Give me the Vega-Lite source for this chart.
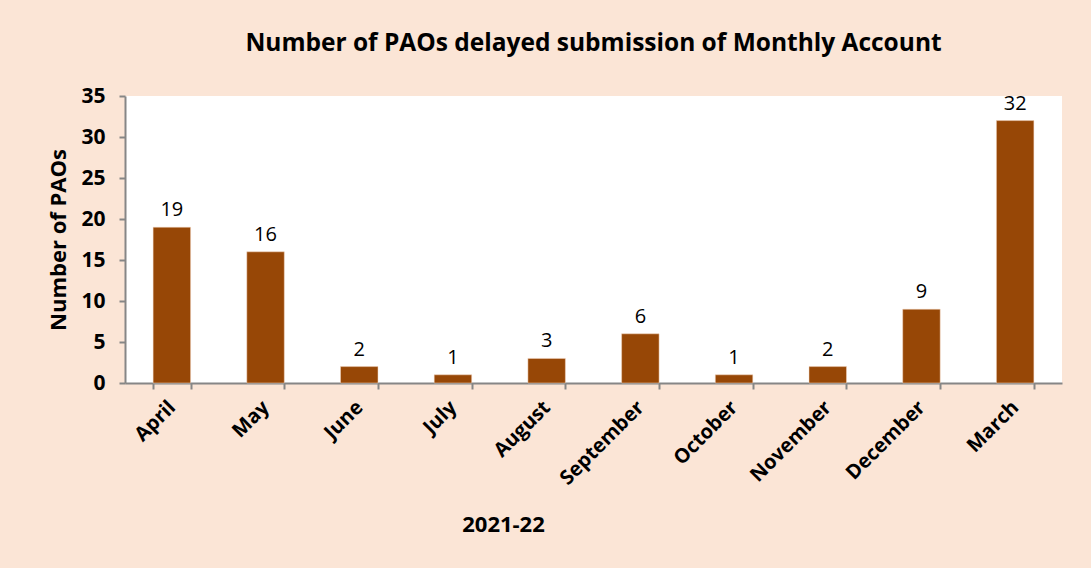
{
  "$schema": "https://vega.github.io/schema/vega-lite/v6.json",
  "autosize": {"type": "none"},
  "width": 937,
  "height": 287,
  "padding": {"left": 125, "top": 96, "right": 29, "bottom": 185},
  "background": "#FBE5D6",
  "config": {
    "view": {"fill": "white", "stroke": null},
    "font": "Open Sans"
  },
  "title": {
    "text": "Number of PAOs delayed submission of Monthly Account",
    "fontSize": 24.5,
    "fontWeight": "bold",
    "font": "Open Sans",
    "color": "black",
    "anchor": "middle",
    "offset": 29
  },
  "data": {
    "values": [
      {"month": "April", "count": 19},
      {"month": "May", "count": 16},
      {"month": "June", "count": 2},
      {"month": "July", "count": 1},
      {"month": "August", "count": 3},
      {"month": "September", "count": 6},
      {"month": "October", "count": 1},
      {"month": "November", "count": 2},
      {"month": "December", "count": 9},
      {"month": "March", "count": 32}
    ]
  },
  "encoding": {
    "x": {
      "field": "month",
      "type": "nominal",
      "sort": null,
      "scale": {"paddingInner": 0.6, "paddingOuter": 0.3},
      "axis": {
        "title": "2021-22",
        "titleFontSize": 22,
        "titleFontWeight": "bold",
        "titleColor": "black",
        "titleX": 378,
        "titleY": 141,
        "titleAlign": "center",
        "titleBaseline": "middle",
        "labelAngle": -45,
        "labelAlign": "right",
        "labelBaseline": "middle",
        "labelFontSize": 20,
        "labelFontWeight": "bold",
        "labelColor": "black",
        "labelPadding": 15,
        "tickBand": "extent",
        "tickColor": "#868686",
        "tickSize": 6,
        "tickWidth": 2,
        "domainColor": "#868686",
        "domainWidth": 2
      }
    },
    "y": {
      "field": "count",
      "type": "quantitative",
      "scale": {"domain": [0, 35], "nice": false},
      "axis": {
        "title": "Number of PAOs",
        "titleFontSize": 22,
        "titleFontWeight": "bold",
        "titleColor": "black",
        "titlePadding": 10,
        "values": [0, 5, 10, 15, 20, 25, 30, 35],
        "grid": false,
        "labelFontSize": 21,
        "labelFontWeight": "bold",
        "labelColor": "black",
        "labelPadding": 14,
        "tickColor": "#868686",
        "tickSize": 6,
        "tickWidth": 2,
        "domainColor": "#868686",
        "domainWidth": 2
      }
    }
  },
  "layer": [
    {"mark": {"type": "bar", "color": "#974706", "stroke": "#F4D9C4", "strokeWidth": 0.5}},
    {
      "mark": {"type": "text", "dy": -17, "fontSize": 20, "color": "black", "font": "Open Sans"},
      "encoding": {"text": {"field": "count", "type": "quantitative"}}
    }
  ]
}
